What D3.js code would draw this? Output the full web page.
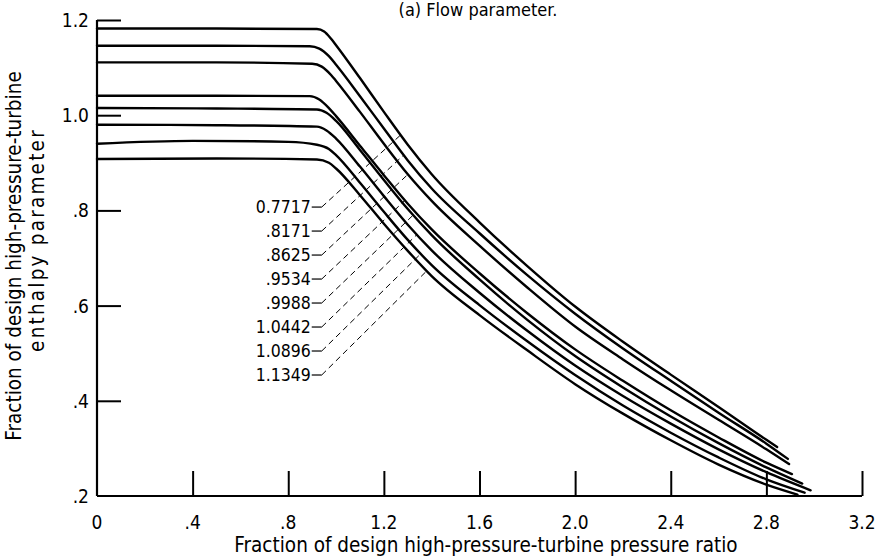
<!DOCTYPE html>
<html><head><meta charset="utf-8">
<script src="https://cdn.jsdelivr.net/npm/d3@7"></script>
<style>
html,body{margin:0;padding:0;background:#fff;}
svg text{font-family:"Liberation Sans Narrow","DejaVu Sans Condensed",sans-serif;fill:#000;}
</style></head>
<body><svg id="c" width="880" height="558"></svg>
<script>
// ---- data ----
const flowLabels = ["0.7717", ".8171", ".8625", ".9534", ".9988", "1.0442", "1.0896", "1.1349"];
const xTicks = [0, 0.4, 0.8, 1.2, 1.6, 2.0, 2.4, 2.8, 3.2];
const xTickLabels = ["0", ".4", ".8", "1.2", "1.6", "2.0", "2.4", "2.8", "3.2"];
const yTicks = [0.2, 0.4, 0.6, 0.8, 1.0, 1.2];
const yTickLabels = [".2", ".4", ".6", ".8", "1.0", "1.2"];

const curve1 = [[0,1.182],[0.5,1.182],[0.92,1.181],[0.95,1.176],[0.98,1.16],[1.0,1.147],[1.1,1.078],[1.2,1.007],[1.3,0.938],[1.4,0.876],[1.6,0.775],[1.8,0.683],[2.0,0.598],[2.2,0.524],[2.4,0.455],[2.6,0.387],[2.8,0.318],[2.845,0.303]];
const curve2 = [[0,1.146],[0.5,1.146],[0.89,1.145],[0.93,1.14],[0.97,1.124],[1.0,1.106],[1.1,1.04],[1.2,0.972],[1.3,0.905],[1.4,0.846],[1.6,0.752],[1.8,0.664],[2.0,0.583],[2.2,0.51],[2.4,0.442],[2.6,0.375],[2.8,0.31],[2.89,0.278]];
const curve3 = [[0,1.111],[0.5,1.111],[0.9,1.108],[0.94,1.102],[0.98,1.084],[1.0,1.072],[1.1,1.007],[1.2,0.94],[1.3,0.876],[1.4,0.82],[1.6,0.726],[1.8,0.638],[2.0,0.556],[2.2,0.487],[2.4,0.422],[2.6,0.36],[2.8,0.298],[2.895,0.267]];
const curve4 = [[0,1.041],[0.5,1.041],[0.89,1.04],[0.93,1.033],[0.97,1.015],[1.0,0.998],[1.1,0.936],[1.2,0.874],[1.3,0.814],[1.4,0.76],[1.6,0.668],[1.8,0.584],[2.0,0.508],[2.2,0.442],[2.4,0.38],[2.6,0.323],[2.8,0.27],[2.907,0.246]];
const curve5 = [[0,1.015],[0.5,1.014],[0.92,1.012],[0.96,1.005],[1.0,0.988],[1.1,0.927],[1.2,0.864],[1.3,0.803],[1.4,0.748],[1.6,0.655],[1.8,0.57],[2.0,0.494],[2.2,0.428],[2.4,0.367],[2.6,0.311],[2.8,0.26],[2.95,0.226]];
const curve6 = [[0,0.98],[0.5,0.979],[0.92,0.976],[0.96,0.968],[1.0,0.951],[1.1,0.892],[1.2,0.83],[1.3,0.77],[1.4,0.716],[1.6,0.627],[1.8,0.547],[2.0,0.474],[2.2,0.41],[2.4,0.352],[2.6,0.298],[2.8,0.25],[2.985,0.212]];
const curve7 = [[0,0.94],[0.4,0.946],[0.8,0.944],[0.92,0.938],[0.97,0.929],[1.0,0.916],[1.1,0.858],[1.2,0.797],[1.3,0.738],[1.4,0.685],[1.6,0.601],[1.8,0.525],[2.0,0.454],[2.2,0.39],[2.4,0.333],[2.6,0.281],[2.8,0.235],[2.96,0.207]];
const curve8 = [[0,0.908],[0.5,0.909],[0.92,0.907],[0.97,0.9],[1.0,0.888],[1.1,0.832],[1.2,0.772],[1.3,0.715],[1.4,0.662],[1.6,0.58],[1.8,0.506],[2.0,0.435],[2.2,0.373],[2.4,0.317],[2.6,0.266],[2.8,0.224],[2.93,0.203]];
const curves = [curve1, curve2, curve3, curve4, curve5, curve6, curve7, curve8];

// ---- layout ----
const svg = d3.select("#c");
const x = d3.scaleLinear().domain([0, 3.2]).range([97, 862]);
const y = d3.scaleLinear().domain([0.2, 1.2]).range([496, 20]);
const FS = "20.5px";

// title
svg.append("text").attr("x", 478).attr("y", 16).attr("text-anchor", "middle")
  .style("font-size", "18px").text("(a) Flow parameter.");

// axes
const gx = svg.append("g").attr("transform", "translate(0,496)")
  .call(d3.axisTop(x).tickValues(xTicks).tickSize(25).tickFormat(""));
gx.select(".domain").attr("stroke", "#000").attr("stroke-width", 2.2).attr("d", `M${x(0)},0H${x(3.2)}`);
gx.selectAll(".tick line").attr("stroke", "#000").attr("stroke-width", 2);
gx.selectAll(".tick").filter(d => d === 0).remove();

const gy = svg.append("g").attr("transform", "translate(97,0)")
  .call(d3.axisRight(y).tickValues(yTicks.filter(v => v > 0.2)).tickSize(24).tickFormat(""));
gy.select(".domain").attr("stroke", "#000").attr("stroke-width", 2.2).attr("d", `M0,${y(0.2)}V${y(1.2)}`);
gy.selectAll(".tick line").attr("stroke", "#000").attr("stroke-width", 2);

// tick labels
svg.append("g").selectAll("text").data(xTicks).join("text")
  .attr("x", d => x(d)).attr("y", 529).attr("text-anchor", "middle")
  .style("font-size", "19px").text((d, i) => xTickLabels[i]);
svg.append("g").selectAll("text").data(yTicks).join("text")
  .attr("x", 89).attr("y", d => y(d) + 7).attr("text-anchor", "end")
  .style("font-size", "19px").text((d, i) => yTickLabels[i]);

// axis titles
svg.append("text").attr("x", 486).attr("y", 552).attr("text-anchor", "middle")
  .style("font-size", FS).text("Fraction of design high-pressure-turbine pressure ratio");
svg.append("text").attr("transform", "translate(21,256) rotate(-90)").attr("text-anchor", "middle")
  .style("font-size", FS).text("Fraction of design high-pressure-turbine");
svg.append("text").attr("transform", "translate(44,240) rotate(-90)").attr("text-anchor", "middle")
  .style("font-size", FS).style("letter-spacing", "2.2px").text("enthalpy parameter");

// curves
const line = d3.line().x(d => x(d[0])).y(d => y(d[1])).curve(d3.curveMonotoneX);
const paths = svg.append("g").selectAll("path").data(curves).join("path")
  .attr("d", line).attr("fill", "none").attr("stroke", "#000").attr("stroke-width", 2.4)
  .attr("stroke-linecap", "round");

// leader labels
const labX = 0.94, labY0 = 0.807, labStep = 0.0504;
const lg = svg.append("g");
flowLabels.forEach((t, i) => {
  const px = x(labX), py = y(labY0 - i * labStep);
  lg.append("text").attr("x", px - 11).attr("y", py + 6).attr("text-anchor", "end")
    .style("font-size", "17.5px").text(t);
  lg.append("line").attr("x1", px - 10).attr("x2", px).attr("y1", py).attr("y2", py)
    .attr("stroke", "#000").attr("stroke-width", 1.2);
  const slope = 0.92 + i * 0.011;
  const node = paths.nodes()[i];
  const L = node.getTotalLength();
  let prev = null, hit = null;
  for (let s = 0; s <= L; s += 0.5) {
    const p = node.getPointAtLength(s);
    const f = (p.y - py) + slope * (p.x - px);
    if (p.x > px && prev !== null && prev * f <= 0) { hit = p; break; }
    if (p.x > px) prev = f;
  }
  if (hit) {
    lg.append("line").attr("x1", px).attr("y1", py).attr("x2", hit.x).attr("y2", hit.y)
      .attr("stroke", "#000").attr("stroke-width", 1).attr("stroke-dasharray", "6,4");
  }
});
</script></body></html>
